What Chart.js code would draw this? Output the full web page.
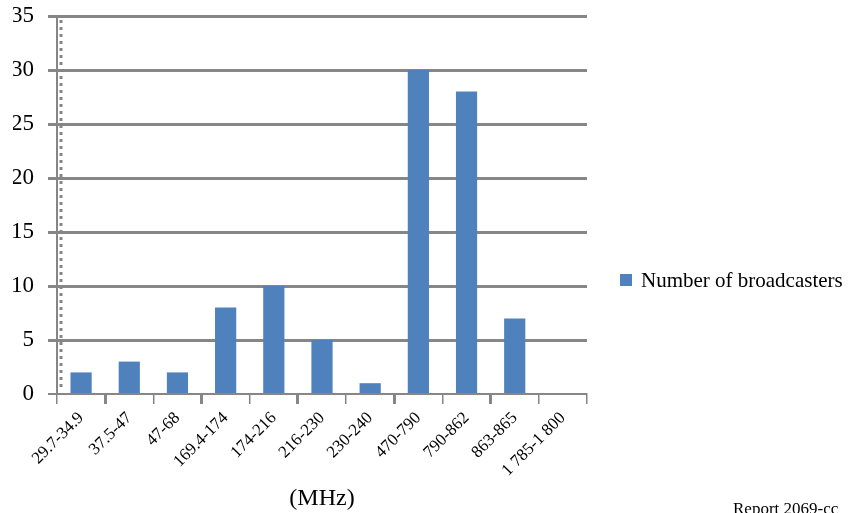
<!DOCTYPE html>
<html>
<head>
<meta charset="utf-8">
<script src="https://cdn.jsdelivr.net/npm/chart.js@4"></script>
<style>
html,body{margin:0;padding:0;background:#fff;}
#wrap{position:relative;width:848px;height:513px;overflow:hidden;}
#legend{position:absolute;left:620px;top:267px;font-family:"Liberation Serif","Times New Roman",serif;font-size:21px;color:#000;white-space:nowrap;line-height:26px;}
#legend span.box{display:inline-block;width:12px;height:12px;background:#4f81bd;margin-right:9px;vertical-align:1px;}
#note{position:absolute;left:733px;top:499px;font-family:"Liberation Serif","Times New Roman",serif;font-size:17px;color:#000;white-space:nowrap;}
</style>
</head>
<body>
<div id="wrap">
<canvas id="c" width="848" height="513"></canvas>
<div id="legend"><span class="box"></span>Number of broadcasters</div>
<div id="note">Report 2069-cc</div>
</div>
<script>
const categories = ["29.7-34.9","37.5-47","47-68","169.4-174","174-216","216-230","230-240","470-790","790-862","863-865","1 785-1 800"];
const broadcasters = [2,3,2,8,10,5,1,30,28,7,0];
const seriesName = "Number of broadcasters";
const yTicks = [0,5,10,15,20,25,30,35];
const xTitle = "(MHz)";

const gridGray = "#868686";

const axisDashes = {
  id: "axisDashes",
  beforeDatasetsDraw(chart) {
    const { ctx, chartArea } = chart;
    ctx.save();
    ctx.strokeStyle = gridGray;
    ctx.lineWidth = 3;
    ctx.setLineDash([3, 4]);
    ctx.beginPath();
    ctx.moveTo(chartArea.left + 4, chartArea.top + 4);
    ctx.lineTo(chartArea.left + 4, chartArea.bottom - 4);
    ctx.stroke();
    ctx.restore();
  }
};

new Chart(document.getElementById("c"), {
  type: "bar",
  data: {
    labels: categories,
    datasets: [{
      label: seriesName,
      data: broadcasters,
      backgroundColor: "#4f81bd",
      borderWidth: 0,
      categoryPercentage: 1,
      barPercentage: 0.44
    }]
  },
  plugins: [axisDashes],
  options: {
    responsive: false,
    animation: false,
    layout: { padding: { left: 13, right: 261, top: 16, bottom: 0 } },
    plugins: { legend: { display: false }, tooltip: { enabled: false } },
    scales: {
      y: {
        min: 0, max: 35,
        afterBuildTicks: s => { s.ticks = yTicks.map(v => ({ value: v })); },
        afterFit: s => { s.width = 44; s.paddingTop = 0; s.paddingBottom = 0; },
        ticks: { font: { family: "Liberation Serif", size: 23 }, color: "#000", padding: 14 },
        grid: {
          color: gridGray,
          lineWidth: ctx => (ctx.tick && ctx.tick.value === 0) ? 2 : 3,
          tickLength: 9,
          drawTicks: true
        },
        border: { display: true, color: gridGray, width: 2 }
      },
      x: {
        afterFit: s => { s.height = 119; s.paddingLeft = 0; s.paddingRight = 0; },
        ticks: { font: { family: "Liberation Serif", size: 17 }, color: "#000", minRotation: 45, maxRotation: 45, padding: 4, autoSkip: false },
        grid: { drawOnChartArea: false, drawTicks: true, tickLength: 10, color: gridGray, lineWidth: ctx => (ctx.index % 2 === 1 ? 3 : 1.5), offset: true },
        border: { display: true, color: gridGray, width: 2 },
        title: { display: true, text: xTitle, font: { family: "Liberation Serif", size: 24 }, color: "#000", padding: { top: 4, bottom: 0 } }
      }
    }
  }
});
</script>
</body>
</html>
